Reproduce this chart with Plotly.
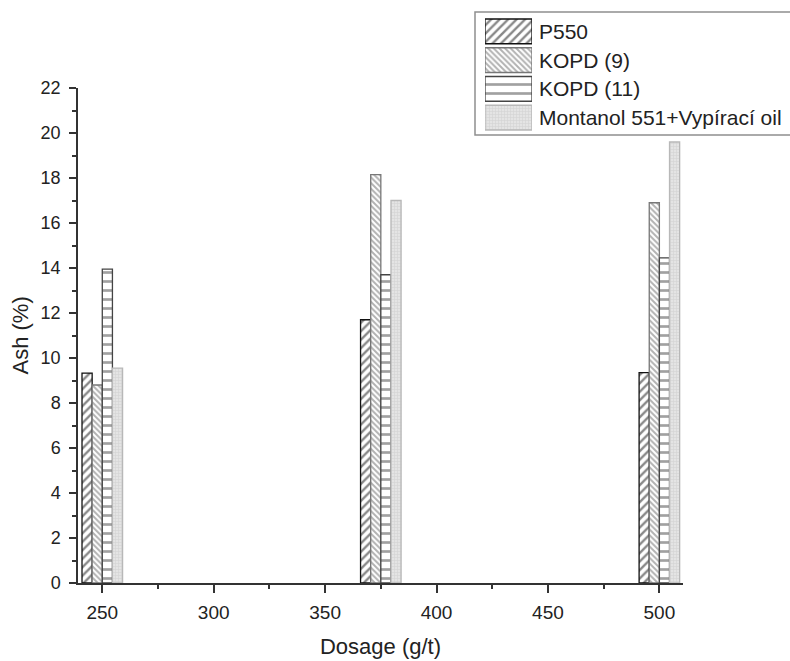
import plotly.graph_objects as go

# ---- data ----
dosage = [250, 375, 500]
series_names = ["P550", "KOPD (9)", "KOPD (11)", "Montanol 551+Vypírací oil"]
p550 = [9.33, 11.7, 9.35]
kopd9 = [8.8, 18.15, 16.9]
kopd11 = [13.95, 13.7, 14.45]
montanol = [9.55, 17.0, 19.6]
values = [p550, kopd9, kopd11, montanol]

x_ticks = [250, 300, 350, 400, 450, 500]
y_ticks = list(range(0, 23, 2))
y_title = "Ash (%)"
x_title = "Dosage (g/t)"

# ---- styles ----
styles = [
    dict(shape="/", fg="#111111", bg="white", size=6, sol=0.4, line="#111111"),
    dict(shape="\\", fg="#666666", bg="white", size=4, sol=0.5, line="#777777"),
    dict(shape="-", fg="#444444", bg="white", size=9, sol=0.3, line="#444444"),
    dict(shape="+", fg="#c2c2c2", bg="#e4e4e4", size=3, sol=0.35, line="#b8b8b8"),
]

bar_w = 4.55
offsets = [-2 * bar_w, -bar_w, 0, bar_w]

fig = go.Figure()
for name, vals, st, off in zip(series_names, values, styles, offsets):
    fig.add_trace(go.Bar(
        x=dosage, y=vals, name=name, width=bar_w, offset=off,
        marker=dict(color=st["bg"],
                    line=dict(color=st["line"], width=1.3),
                    pattern=dict(shape=st["shape"], fgcolor=st["fg"], bgcolor=st["bg"],
                                 size=st["size"], solidity=st["sol"], fillmode="overlay")),
        showlegend=False, xaxis="x", yaxis="y",
    ))

# custom legend swatches drawn as horizontal bars on a hidden axis pair
for i, (name, st) in enumerate(zip(series_names, styles)):
    fig.add_trace(go.Bar(
        x=[1], y=[i], base=0, orientation="h", width=0.86,
        marker=dict(color=st["bg"],
                    line=dict(color=st["line"], width=1.3),
                    pattern=dict(shape=st["shape"], fgcolor=st["fg"], bgcolor=st["bg"],
                                 size=st["size"], solidity=st["sol"], fillmode="overlay")),
        showlegend=False, hoverinfo="skip", xaxis="x2", yaxis="y2",
    ))

W, H = 790, 661
L, B = 78, 78
pw, ph = W - L, H - B


def px(xp):
    return (xp - L) / pw


def py(yp):
    return (H - B - yp) / ph


font_family = "Liberation Sans, Arial, sans-serif"
axis_col = "#333333"

annotations = []
for i, name in enumerate(series_names):
    annotations.append(dict(text=name, xref="paper", yref="y2", x=px(537), y=i,
                            xanchor="left", yanchor="middle", showarrow=False,
                            font=dict(size=21, color="#222222", family=font_family)))
# y-axis title placed as rotated text at the left edge
annotations.append(dict(text=y_title, xref="paper", yref="y", x=px(20), y=11,
                        xanchor="center", yanchor="middle", textangle=-90, showarrow=False,
                        font=dict(size=22, color="#222222", family=font_family)))

fig.update_layout(
    width=W, height=H,
    margin=dict(l=L, r=0, t=0, b=B, pad=0, autoexpand=False),
    paper_bgcolor="white", plot_bgcolor="white",
    barmode="overlay",
    font=dict(family=font_family, color="#222222", size=18),
    xaxis=dict(domain=[0, px(683)], range=[239.1, 510.6],
               tickmode="array", tickvals=x_ticks,
               ticks="outside", ticklen=8, tickwidth=1.5, tickcolor=axis_col,
               ticklabelstandoff=3,
               minor=dict(dtick=25, tick0=250, ticks="outside", ticklen=4, tickwidth=1.5,
                          tickcolor=axis_col, showgrid=False),
               showline=True, linecolor=axis_col, linewidth=1.5,
               showgrid=False, zeroline=False,
               tickfont=dict(size=19),
               title=dict(text=x_title, font=dict(size=22), standoff=17)),
    yaxis=dict(domain=[0, py(88)], range=[0, 22],
               tickmode="array", tickvals=y_ticks,
               ticks="outside", ticklen=7, tickwidth=1.5, tickcolor=axis_col,
               ticklabelstandoff=5,
               minor=dict(dtick=1, tick0=0, ticks="outside", ticklen=4, tickwidth=1.5,
                          tickcolor=axis_col, showgrid=False),
               showline=True, linecolor=axis_col, linewidth=1.5,
               showgrid=False, zeroline=False,
               tickfont=dict(size=18)),
    xaxis2=dict(domain=[px(485), px(532)], range=[0, 1], anchor="y2",
                visible=False, fixedrange=True),
    yaxis2=dict(domain=[py(132), py(17)], range=[3.5, -0.5], anchor="x2",
                visible=False, fixedrange=True),
    shapes=[dict(type="rect", xref="paper", yref="paper",
                 x0=px(475), x1=px(793), y0=py(135), y1=py(12),
                 line=dict(color="#8f8f8f", width=1.5), fillcolor="rgba(0,0,0,0)",
                 layer="below")],
    annotations=annotations,
)

fig.write_html(
    "out.html",
    config={"displayModeBar": False},
    post_script="document.body.style.margin='0';document.body.style.overflow='hidden';"
                "document.documentElement.style.overflow='hidden';",
)
